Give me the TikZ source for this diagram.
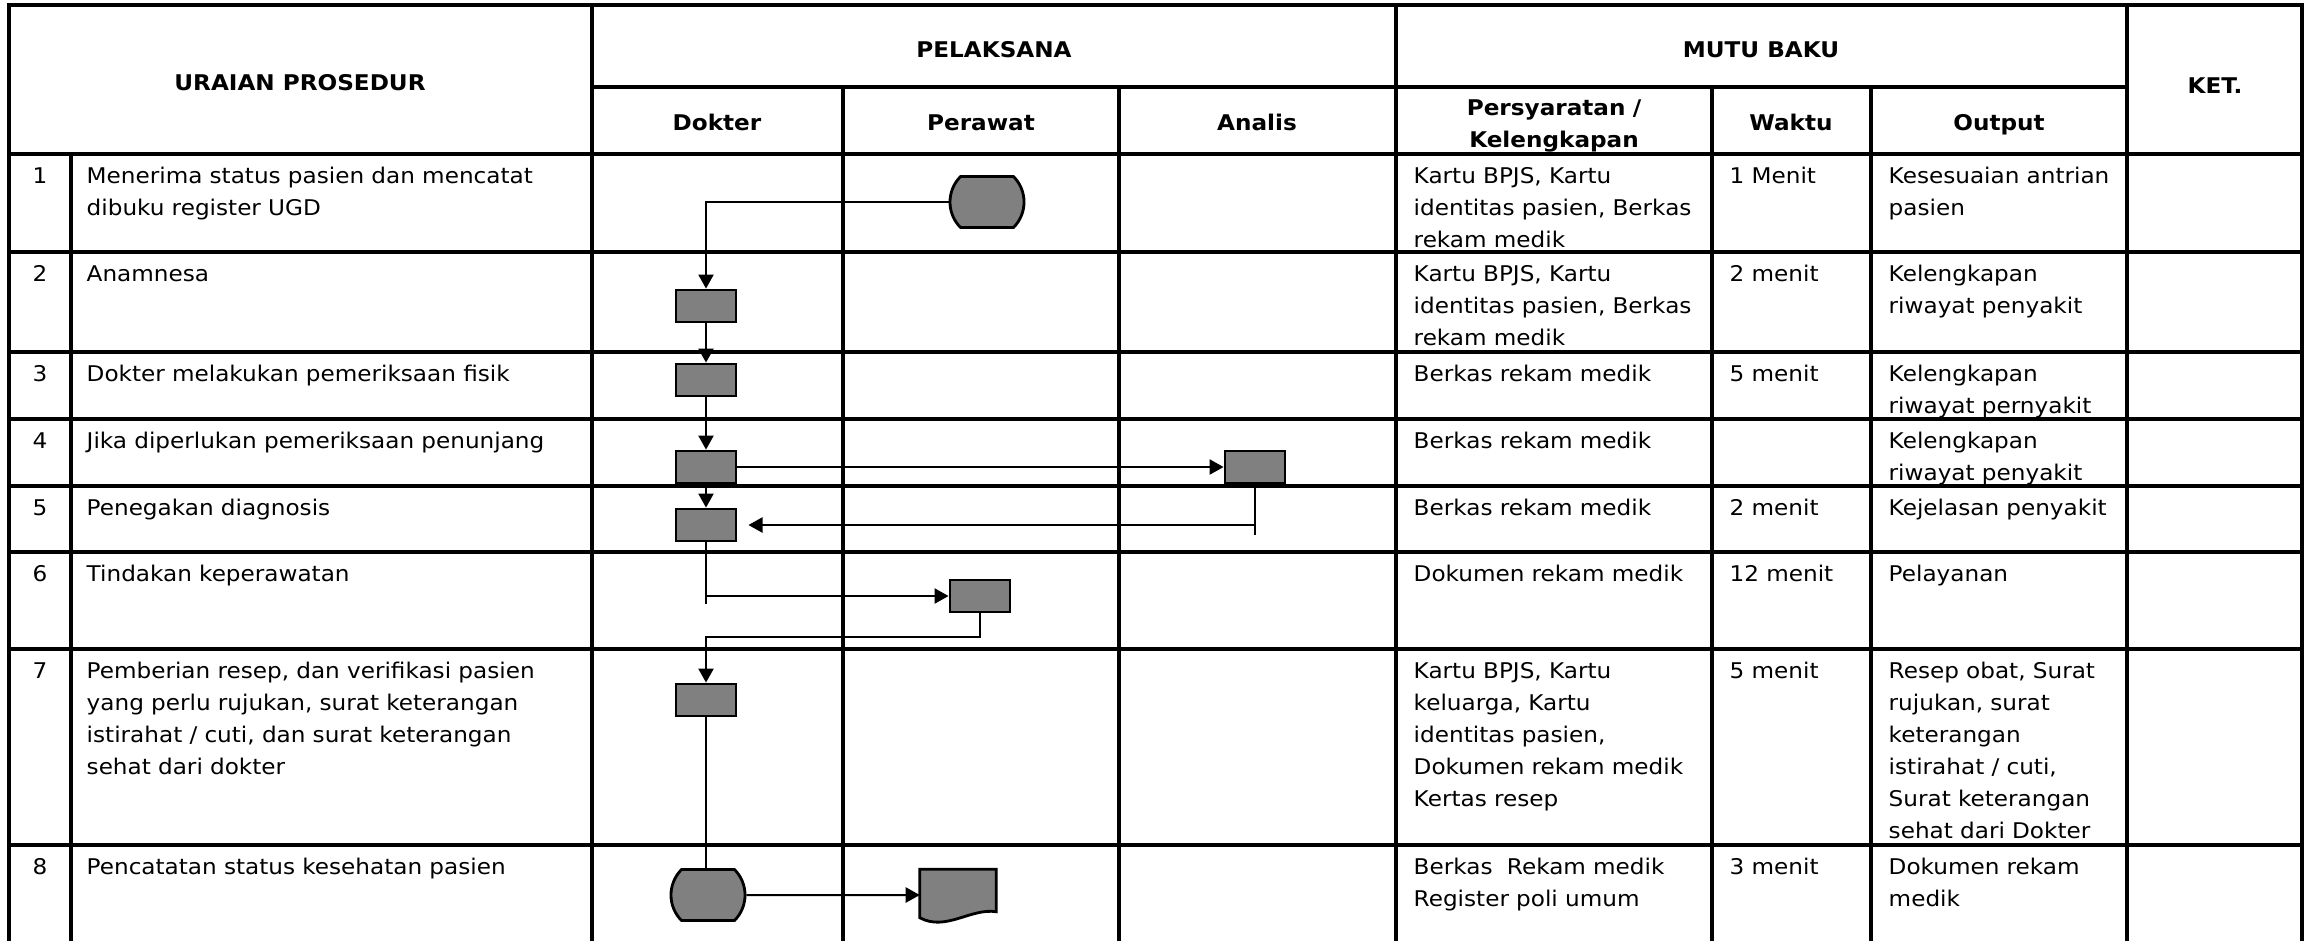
\documentclass[tikz,border=0pt]{standalone}
\usepackage{fontspec}
\setmainfont{DejaVu Sans}[FakeStretch=1.07]
\usetikzlibrary{arrows.meta,shapes.misc,calc}

\definecolor{boxgray}{RGB}{128,128,128}
\newcommand{\tabfont}{\fontsize{6.15pt}{9.1pt}\selectfont}

\tikzset{
  tabframe/.style={line width=1.22pt},
  tabline/.style={line width=0.94pt},
  proc/.style={draw, fill=boxgray, line width=0.8pt, minimum width=0.6cm, minimum height=0.32cm, inner sep=0pt},
  term/.style={draw, fill=boxgray, line width=0.8pt, rounded rectangle, rounded rectangle arc length=90, minimum width=0.74cm, minimum height=0.51cm, inner sep=0pt},
  docbox/.style={minimum width=0.75cm, minimum height=0.5cm, inner sep=0pt},
  flow/.style={line width=0.57pt, -{Triangle[length=4pt,width=4.3pt]}},
  conn/.style={line width=0.57pt},
  hd/.style={font=\tabfont\bfseries, anchor=base, inner sep=0pt},
  txt/.style={anchor=base west, text width=6cm, align=left, inner sep=0pt},
}

\begin{document}
\begin{tikzpicture}[x=0.01cm, y=-0.01cm, font=\tabfont]
\useasboundingbox (0,0) rectangle (2310,941);

% table frame and rules
\draw[tabframe] (9,941) -- (9,5) -- (2302,5) -- (2302,941);
\foreach \y in {154,252,352,419,486,552,649,845}
  \draw[tabline] (9,\y) -- (2302,\y);
\draw[tabline] (592,87) -- (2127,87);
\draw[tabline] (71,154) -- (71,941);
\foreach \x in {592,1396,2127}
  \draw[tabline] (\x,5) -- (\x,941);
\foreach \x in {843,1119,1712,1871}
  \draw[tabline] (\x,87) -- (\x,941);

% headers
\node[hd] (hUraian) at (300,90) {URAIAN PROSEDUR};
\node[hd] (hPelaksana) at (994,57) {PELAKSANA};
\node[hd] (hMutu) at (1761,57) {MUTU BAKU};
\node[hd] (hKet) at (2215,93) {KET.};
\node[hd] (hDokter) at (717,130) {Dokter};
\node[hd] (hPerawat) at (981,130) {Perawat};
\node[hd] (hAnalis) at (1257,130) {Analis};
\node[hd, text width=3cm, align=center] (hSyarat) at (1554,115) {Persyaratan /\\Kelengkapan};
\node[hd] (hWaktu) at (1791,130) {Waktu};
\node[hd] (hOutput) at (1999,130) {Output};

% row numbers
\foreach \n/\y in {1/183,2/281,3/381,4/448,5/515,6/581,7/678,8/874}
  \node[anchor=base, inner sep=0pt] (no\n) at (40,\y) {\n};

% uraian prosedur
\node[txt] (u1) at (86,183) {Menerima status pasien dan mencatat\\dibuku register UGD};
\node[txt] (u2) at (86,281) {Anamnesa};
\node[txt] (u3) at (86,381) {Dokter melakukan pemeriksaan fisik};
\node[txt] (u4) at (86,448) {Jika diperlukan pemeriksaan penunjang};
\node[txt] (u5) at (86,515) {Penegakan diagnosis};
\node[txt] (u6) at (86,581) {Tindakan keperawatan};
\node[txt] (u7) at (86,678) {Pemberian resep, dan verifikasi pasien\\yang perlu rujukan, surat keterangan\\istirahat / cuti, dan surat keterangan\\sehat dari dokter};
\node[txt] (u8) at (86,874) {Pencatatan status kesehatan pasien};

% persyaratan / kelengkapan
\node[txt] (s1) at (1413,183) {Kartu BPJS, Kartu\\identitas pasien, Berkas\\rekam medik};
\node[txt] (s2) at (1413,281) {Kartu BPJS, Kartu\\identitas pasien, Berkas\\rekam medik};
\node[txt] (s3) at (1413,381) {Berkas rekam medik};
\node[txt] (s4) at (1413,448) {Berkas rekam medik};
\node[txt] (s5) at (1413,515) {Berkas rekam medik};
\node[txt] (s6) at (1413,581) {Dokumen rekam medik};
\node[txt] (s7) at (1413,678) {Kartu BPJS, Kartu\\keluarga, Kartu\\identitas pasien,\\Dokumen rekam medik\\Kertas resep};
\node[txt] (s8) at (1413,874) {Berkas\ \ Rekam medik\\Register poli umum};

% waktu
\node[txt] (w1) at (1729,183) {1 Menit};
\node[txt] (w2) at (1729,281) {2 menit};
\node[txt] (w3) at (1729,381) {5 menit};
\node[txt] (w5) at (1729,515) {2 menit};
\node[txt] (w6) at (1729,581) {12 menit};
\node[txt] (w7) at (1729,678) {5 menit};
\node[txt] (w8) at (1729,874) {3 menit};

% output
\node[txt] (o1) at (1888,183) {Kesesuaian antrian\\pasien};
\node[txt] (o2) at (1888,281) {Kelengkapan\\riwayat penyakit};
\node[txt] (o3) at (1888,381) {Kelengkapan\\riwayat pernyakit};
\node[txt] (o4) at (1888,448) {Kelengkapan\\riwayat penyakit};
\node[txt] (o5) at (1888,515) {Kejelasan penyakit};
\node[txt] (o6) at (1888,581) {Pelayanan};
\node[txt] (o7) at (1888,678) {Resep obat, Surat\\rujukan, surat\\keterangan\\istirahat / cuti,\\Surat keterangan\\sehat dari Dokter};
\node[txt] (o8) at (1888,874) {Dokumen rekam\\medik};

% flow symbols
\node[term] (t1) at (987,202) {};
\node[proc] (d2) at (706,306) {};
\node[proc] (d3) at (706,380) {};
\node[proc] (d4) at (706,467) {};
\node[proc] (d5) at (706,525) {};
\node[proc] (a4) at (1255,467) {};
\node[proc] (p6) at (980,596) {};
\node[proc] (d7) at (706,700) {};
\node[term] (t8) at (708,895) {};
\node[docbox] (doc8) at (958,895) {};
\draw[fill=boxgray, line width=0.8pt] (doc8.north west) -- (doc8.north east)
  -- ($(doc8.south east)+(0,-9)$)
  .. controls ($(doc8.south east)+(-25.5,-13)$) and ($(doc8.south east)+(-50.5,11)$) .. ($(doc8.south west)+(0,-3)$)
  -- cycle;

% connectors
\draw[flow] (t1.west) -| (d2.north);
\draw[flow] (d2) -- (d3);
\draw[flow] (d3) -- (d4);
\draw[flow] (d4) -- (d5);
\draw[flow] (d4) -- (a4);
\draw[flow, shorten >=0.11cm] (a4.south) |- (d5.east);
\draw[conn] (a4.south) -- ++(0,51);
\draw[flow] (d5.south) |- (p6.west);
\draw[conn] (d5.south) -- ++(0,62);
\draw[flow] (p6.south) -- ++(0,24) -| (d7.north);
\draw[conn] (d7) -- (t8.north -| d7);
\draw[flow] (t8) -- (doc8);

\end{tikzpicture}
\end{document}
